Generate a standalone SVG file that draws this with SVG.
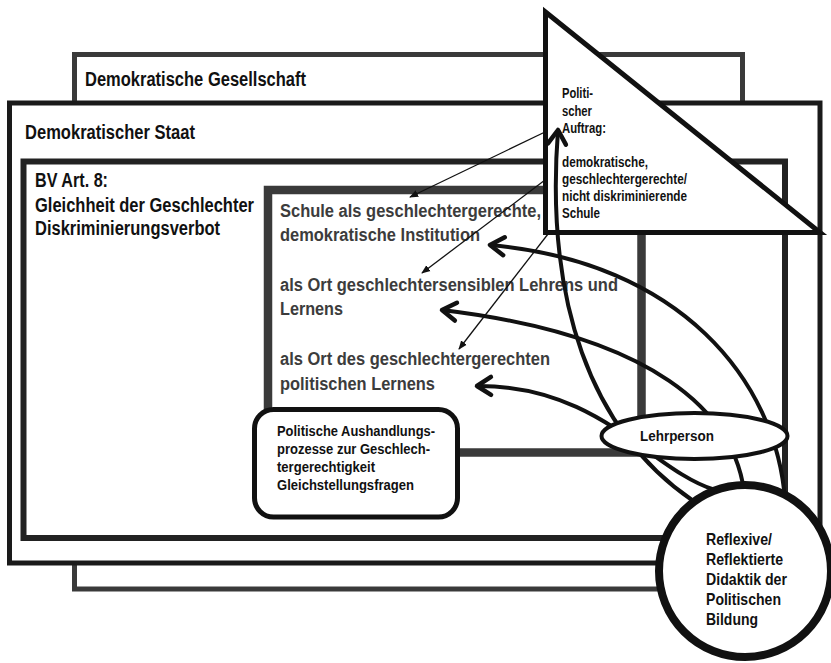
<svg xmlns="http://www.w3.org/2000/svg" width="831" height="663" viewBox="0 0 831 663">
<defs>
<style>
text{font-family:"Liberation Sans",Arial,sans-serif;font-weight:bold;fill:#111}
.box{fill:#fff}
.big{font-size:19.5px}
.sch{font-size:17.5px;fill:#3c3c3c}
.tri{font-size:14px}
.neg{font-size:14px}
.ref{font-size:16.5px}
.thin{fill:none;stroke:#111;stroke-width:1.3;marker-end:url(#ah)}
.thick{fill:none;stroke:#111;stroke-width:4;marker-end:url(#chev)}
</style>
<marker id="ah" viewBox="0 0 10 10" refX="9" refY="5" markerWidth="9" markerHeight="9" markerUnits="userSpaceOnUse" orient="auto">
<path d="M0,1 L10,5 L0,9 Z" fill="#111"/>
</marker>
<marker id="chev" viewBox="-16 -10 20 20" refX="0" refY="0" markerWidth="20" markerHeight="20" markerUnits="userSpaceOnUse" orient="auto" overflow="visible">
<path d="M-14,-9 L0,0 L-14,9" fill="none" stroke="#111" stroke-width="4.5" stroke-linecap="round" stroke-linejoin="round"/>
</marker>
</defs>
<rect width="831" height="663" fill="#fff"/>

<g id="gesellschaft">
<rect class="box" x="74.5" y="54.5" width="668" height="534.5" stroke="#3a3a3a" stroke-width="5"/>
<text class="big" x="85" y="86" textLength="221" lengthAdjust="spacingAndGlyphs">Demokratische Gesellschaft</text>
</g>
<g id="staat">
<rect class="box" x="9.5" y="103" width="810.5" height="460" stroke="#1a1a1a" stroke-width="5"/>
<text class="big" x="25" y="139" textLength="170" lengthAdjust="spacingAndGlyphs">Demokratischer Staat</text>
</g>
<g id="bv">
<rect class="box" x="23.5" y="161.5" width="761.5" height="376.5" stroke="#222" stroke-width="6"/>
<text class="big" x="35" y="187" textLength="73" lengthAdjust="spacingAndGlyphs">BV Art. 8:</text>
<text class="big" x="35" y="212" textLength="219" lengthAdjust="spacingAndGlyphs">Gleichheit der Geschlechter</text>
<text class="big" x="35" y="235" textLength="185" lengthAdjust="spacingAndGlyphs">Diskriminierungsverbot</text>
</g>
<g id="schule">
<rect class="box" x="268" y="190" width="373.5" height="262.5" stroke="#3a3a3a" stroke-width="8.5"/>
<text class="sch" x="280" y="217" textLength="261" lengthAdjust="spacingAndGlyphs">Schule als geschlechtergerechte,</text>
<text class="sch" x="280" y="241" textLength="200" lengthAdjust="spacingAndGlyphs">demokratische Institution</text>
<text class="sch" x="280" y="291" textLength="338" lengthAdjust="spacingAndGlyphs">als Ort geschlechtersensiblen Lehrens und</text>
<text class="sch" x="280" y="315" textLength="63" lengthAdjust="spacingAndGlyphs">Lernens</text>
<text class="sch" x="280" y="365" textLength="270" lengthAdjust="spacingAndGlyphs">als Ort des geschlechtergerechten</text>
<text class="sch" x="280" y="390" textLength="155" lengthAdjust="spacingAndGlyphs">politischen Lernens</text>
</g>
<g id="aushandlung">
<rect x="254.5" y="409.5" width="203" height="107.5" rx="19" fill="#fff" stroke="#111" stroke-width="5"/>
<text class="neg" x="277" y="436" textLength="158" lengthAdjust="spacingAndGlyphs">Politische Aushandlungs-</text>
<text class="neg" x="277" y="454" textLength="153" lengthAdjust="spacingAndGlyphs">prozesse zur Geschlech-</text>
<text class="neg" x="277" y="472" textLength="98" lengthAdjust="spacingAndGlyphs">tergerechtigkeit</text>
<text class="neg" x="277" y="490" textLength="137" lengthAdjust="spacingAndGlyphs">Gleichstellungsfragen</text>
</g>
<g id="auftrag">
<polygon points="545.5,12 545.5,232.5 820,232.5" fill="#fff" stroke="#111" stroke-width="5" stroke-linejoin="miter"/>
<text class="tri" x="562" y="98" textLength="31" lengthAdjust="spacingAndGlyphs">Politi-</text>
<text class="tri" x="562" y="116" textLength="30" lengthAdjust="spacingAndGlyphs">scher</text>
<text class="tri" x="562" y="133" textLength="44" lengthAdjust="spacingAndGlyphs">Auftrag:</text>
<text class="tri" x="562" y="167" textLength="86" lengthAdjust="spacingAndGlyphs">demokratische,</text>
<text class="tri" x="562" y="184" textLength="125" lengthAdjust="spacingAndGlyphs">geschlechtergerechte/</text>
<text class="tri" x="562" y="201" textLength="125" lengthAdjust="spacingAndGlyphs">nicht diskriminierende</text>
<text class="tri" x="562" y="218" textLength="38" lengthAdjust="spacingAndGlyphs">Schule</text>
</g>

<g id="connectors">
<path class="thin" d="M545,132 L410,197"/>
<path class="thin" d="M545,180 L422,273"/>
<path class="thin" d="M548,234 L459,349"/>
<path class="thick" d="M785,500 C776,380 680,262 490,245"/>
<path class="thick" d="M745,500 C738,410 650,335 442,310"/>
<path class="thick" d="M715,490 C650,470 600,385 477,386"/>
<path class="thick" d="M692,500 C590,430 545,300 558,130"/>
</g>

<g id="lehrperson">
<ellipse cx="694.5" cy="436" rx="93" ry="23" fill="#fff" stroke="#111" stroke-width="4"/>
<text x="640" y="441" font-size="14.5" textLength="74" lengthAdjust="spacingAndGlyphs">Lehrperson</text>
</g>
<g id="didaktik">
<circle cx="745" cy="571" r="86" fill="#fff" stroke="#111" stroke-width="8"/>
<text class="ref" x="706" y="545" textLength="66" lengthAdjust="spacingAndGlyphs">Reflexive/</text>
<text class="ref" x="706" y="565" textLength="77" lengthAdjust="spacingAndGlyphs">Reflektierte</text>
<text class="ref" x="706" y="585" textLength="81" lengthAdjust="spacingAndGlyphs">Didaktik der</text>
<text class="ref" x="706" y="605" textLength="75" lengthAdjust="spacingAndGlyphs">Politischen</text>
<text class="ref" x="706" y="625" textLength="52" lengthAdjust="spacingAndGlyphs">Bildung</text>
</g>
</svg>
